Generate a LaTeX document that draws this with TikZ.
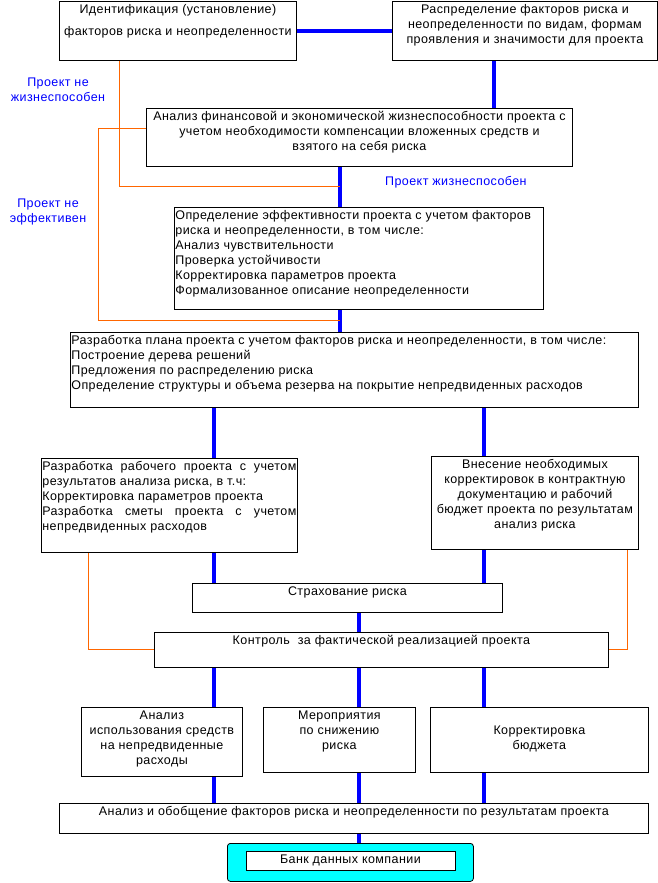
\documentclass[tikz,border=0pt]{standalone}
\usepackage{fontspec}
\setmainfont{Liberation Sans}[LetterSpace=3.4]
\definecolor{bl}{RGB}{0,0,255}
\definecolor{orl}{RGB}{255,102,0}
\definecolor{cy}{RGB}{0,255,255}
\newcommand\tb[4]{\parbox[c][\dimexpr#2pt-3pt\relax][t]{\dimexpr#1pt-2pt\relax}{#3\strut #4}}
\begin{document}
\begin{tikzpicture}[x=1pt,y=-1pt,
  every node/.style={font=\fontsize{12.5}{15}\selectfont},
  box/.style={draw, line width=0.8pt, fill=white, inner xsep=1pt, inner ysep=1.5pt, anchor=north west},
  bline/.style={draw=bl, line width=4pt},
  oline/.style={draw=orl, line width=0.9pt},
  lbl/.style={text=bl, align=center, inner sep=0pt}]
\useasboundingbox (0,0) rectangle (658,883);
% column coordinates
\coordinate (xA) at (214,0);
\coordinate (xB) at (359,0);
\coordinate (xC) at (484,0);
\coordinate (xD) at (340,0);
\coordinate (xE) at (494,0);
\coordinate (xO1) at (119,0);
\coordinate (xO2) at (98,0);
\coordinate (xO3) at (88,0);
\coordinate (xO4) at (627,0);
\coordinate (yO2) at (0,128);
\coordinate (o1) at (340,186);
\coordinate (o2) at (340,320);
% boxes
\node[box] (b1) at (59,1) {\tb{237}{59}{\centering}{Идентификация (установление)\\[7pt]факторов риска и неопределенности}};
\node[box] (b2) at (392,1) {\tb{265}{59}{\centering}{Распределение факторов риска и\\неопределенности по видам, формам\\проявления и значимости для проекта}};
\node[box] (b4) at (146,108) {\tb{426}{58}{\centering}{Анализ финансовой и экономической жизнеспособности проекта с\\учетом необходимости компенсации вложенных средств и\\взятого на себя риска}};
\node[box] (b5) at (174,207) {\tb{369}{102}{\raggedright}{Определение эффективности проекта с учетом факторов\\риска и неопределенности, в том числе:\\Анализ чувствительности\\Проверка устойчивости\\Корректировка параметров проекта\\Формализованное описание неопределенности}};
\node[box] (b6) at (70,332) {\tb{568}{75}{\raggedright}{Разработка плана проекта с учетом факторов риска и неопределенности, в том числе:\\Построение дерева решений\\Предложения по распределению риска\\Определение структуры и объема резерва на покрытие непредвиденных расходов}};
\node[box] (b7) at (41,458) {\tb{256}{94}{\raggedright}{\makebox[\linewidth][s]{Разработка рабочего проекта с учетом}\\результатов анализа риска, в т.ч:\\Корректировка параметров проекта\\\makebox[\linewidth][s]{Разработка сметы проекта с учетом}\\непредвиденных расходов}};
\node[box] (b8) at (431,456) {\tb{207}{93}{\centering}{Внесение необходимых\\корректировок в контрактную\\документацию и рабочий\\бюджет проекта по результатам\\анализ риска}};
\node[box] (b9) at (192,583) {\tb{310}{29}{\centering}{Страхование риска}};
\node[box] (b10) at (154,632) {\tb{454}{35}{\centering}{Контроль\ \ за фактической реализацией проекта}};
\node[box] (b11) at (81,707) {\tb{161}{69}{\centering}{Анализ\\использования средств\\на непредвиденные\\расходы}};
\node[box] (b12) at (263,707) {\tb{152}{65}{\centering}{Мероприятия\\по снижению\\риска}};
\node[box] (b13) at (430,707) {\tb{218}{65}{\centering}{\\Корректировка\\бюджета}};
\node[box] (b14) at (59,803) {\tb{589}{30}{\centering}{Анализ и обобщение факторов риска и неопределенности по результатам проекта}};
\node[draw, line width=0.8pt, fill=cy, rounded corners=3pt, minimum width=246pt, minimum height=38pt, anchor=north west] (bank) at (227,843) {};
\node[draw, line width=0.8pt, fill=white, minimum width=209pt, minimum height=19pt, inner sep=0pt] (bankin) at ([yshift=1.5pt]bank.center) {Банк данных компании};
% labels
\node[lbl] (l1) at (58,90) {Проект не\\жизнеспособен};
\node[lbl] (l2) at (48,212) {Проект не\\эффективен};
\node[lbl, anchor=west] (l3) at (385,182) {Проект жизнеспособен};
% blue connectors
\draw[bline] (b1.east) -- (b2.west);
\draw[bline] (b2.south -| xE) -- (b4.north -| xE);
\draw[bline] (b4.south -| xD) -- (b5.north -| xD);
\draw[bline] (b5.south -| xD) -- (b6.north -| xD);
\draw[bline] (b6.south -| xA) -- (b7.north -| xA);
\draw[bline] (b6.south -| xC) -- (b8.north -| xC);
\draw[bline] (b7.south -| xA) -- (b9.north -| xA);
\draw[bline] (b8.south -| xC) -- (b9.north -| xC);
\draw[bline] (b9.south -| xB) -- (b10.north -| xB);
\draw[bline] (b10.south -| xA) -- (b11.north -| xA);
\draw[bline] (b10.south -| xB) -- (b12.north -| xB);
\draw[bline] (b10.south -| xC) -- (b13.north -| xC);
\draw[bline] (b11.south -| xA) -- (b14.north -| xA);
\draw[bline] (b12.south -| xB) -- (b14.north -| xB);
\draw[bline] (b13.south -| xC) -- (b14.north -| xC);
\draw[bline] (b14.south -| xB) -- (bank.north -| xB);
% orange connectors
\draw[oline] (b1.south -| xO1) |- (o1);
\draw[oline] (b4.west |- yO2) -| (xO2 |- o2) -- (o2);
\draw[oline] (b7.south -| xO3) |- (b10.west);
\draw[oline] (b8.south -| xO4) |- (b10.east);
\end{tikzpicture}
\end{document}
